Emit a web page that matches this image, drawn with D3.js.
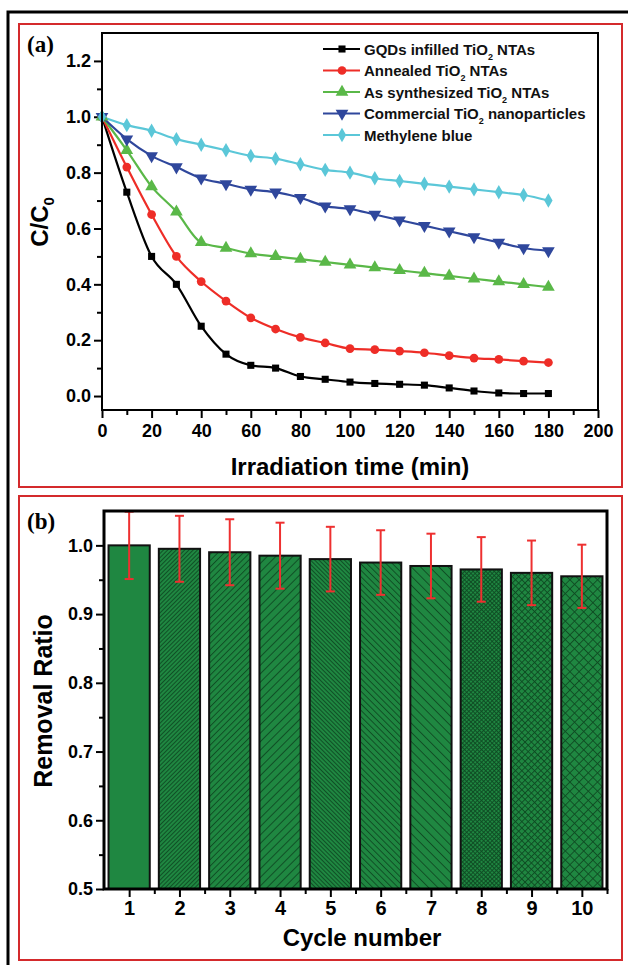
<!DOCTYPE html>
<html>
<head>
<meta charset="utf-8">
<script src="https://cdn.jsdelivr.net/npm/d3@7"></script>
<style>
  body { margin: 0; background: #fff; }
  text { font-family: "Liberation Sans", Arial, sans-serif; font-weight: bold; }
</style>
</head>
<body>
<div id="chart"></div>
<script>
// Panel (a): photodegradation, C/C0 vs irradiation time
const times = [0, 10, 20, 30, 40, 50, 60, 70, 80, 90, 100, 110, 120, 130, 140, 150, 160, 170, 180];
const gqds = [1.0, 0.73, 0.50, 0.40, 0.25, 0.15, 0.11, 0.10, 0.07, 0.06, 0.05, 0.045, 0.042, 0.039, 0.029, 0.018, 0.011, 0.009, 0.009];
const annealed = [1.0, 0.82, 0.65, 0.50, 0.41, 0.34, 0.28, 0.24, 0.21, 0.19, 0.17, 0.166, 0.161, 0.155, 0.145, 0.136, 0.131, 0.125, 0.12];
const asSynth = [1.0, 0.88, 0.75, 0.66, 0.55, 0.53, 0.51, 0.50, 0.49, 0.48, 0.47, 0.46, 0.45, 0.44, 0.43, 0.42, 0.41, 0.40, 0.39];
const commercial = [1.0, 0.92, 0.86, 0.82, 0.78, 0.76, 0.74, 0.73, 0.71, 0.68, 0.67, 0.65, 0.63, 0.61, 0.59, 0.57, 0.55, 0.53, 0.52];
const mb = [1.0, 0.97, 0.95, 0.92, 0.90, 0.88, 0.86, 0.85, 0.83, 0.81, 0.80, 0.78, 0.77, 0.76, 0.75, 0.74, 0.73, 0.72, 0.70];
const seriesNames = ["GQDs infilled TiO|2| NTAs", "Annealed TiO|2| NTAs", "As synthesized TiO|2| NTAs", "Commercial TiO|2| nanoparticles", "Methylene blue"];
const xTicksA = [0, 20, 40, 60, 80, 100, 120, 140, 160, 180, 200];
const yTicksA = [0.0, 0.2, 0.4, 0.6, 0.8, 1.0, 1.2];

// Panel (b): recycling test
const cycles = [1, 2, 3, 4, 5, 6, 7, 8, 9, 10];
const removal = [1.0, 0.995, 0.99, 0.985, 0.98, 0.975, 0.97, 0.965, 0.96, 0.955];
const removalErr = [0.049, 0.048, 0.048, 0.048, 0.047, 0.047, 0.047, 0.047, 0.047, 0.046];
const yTicksB = [0.5, 0.6, 0.7, 0.8, 0.9, 1.0];

const width = 628, height = 965;
const svg = d3.select("#chart").append("svg").attr("width", width).attr("height", height);

// outer frame and panel boxes
svg.append("rect").attr("x", 8).attr("y", 12).attr("width", 640).attr("height", 980)
  .attr("fill", "none").attr("stroke", "#000").attr("stroke-width", 3);
svg.append("rect").attr("x", 19).attr("y", 24).attr("width", 603).attr("height", 463)
  .attr("fill", "none").attr("stroke", "#d42a2c").attr("stroke-width", 2);
svg.append("rect").attr("x", 19).attr("y", 496).attr("width", 603).attr("height", 464)
  .attr("fill", "none").attr("stroke", "#d42a2c").attr("stroke-width", 2);

// helper for text with subscripts marked as |x|
function richText(sel, str, subSize, shift) {
  str.split("|").forEach((part, i) => {
    if (!part) return;
    const t = sel.append("tspan").text(part);
    if (i % 2 === 1) t.attr("font-size", subSize).attr("dy", shift);
    else if (i > 0) t.attr("dy", -shift);
  });
}

// ---------- panel (a) ----------
const ax = d3.scaleLinear().domain([0, 200]).range([102, 598]);
const ay = d3.scaleLinear().domain([-0.05, 1.3]).range([410, 33]);
const colors = ["#000000", "#ee2d27", "#5ab848", "#2f479c", "#5bc7d8"];
const symbols = [d3.symbolSquare, d3.symbolCircle, d3.symbolTriangle, d3.symbolTriangle, d3.symbolDiamond];
const symSize = [50, 60, 70, 70, 60];
const symRot = [0, 0, 0, 180, 0];
const allSeries = [gqds, annealed, asSynth, commercial, mb];

const gA = svg.append("g");
gA.append("g").attr("transform", "translate(0,410)")
  .call(d3.axisBottom(ax).tickValues(d3.range(10, 200, 20)).tickSize(5).tickFormat(""))
  .call(g => g.select(".domain").remove());
gA.append("g").attr("transform", "translate(0,410)")
  .call(d3.axisBottom(ax).tickValues(xTicksA).tickSize(8).tickPadding(6).tickFormat(d3.format("d")))
  .call(g => g.select(".domain").remove())
  .call(g => g.selectAll("text").attr("font-size", 18).attr("fill", "#000"));
gA.append("g").attr("transform", "translate(102,0)")
  .call(d3.axisLeft(ay).tickValues(d3.range(0.1, 1.3, 0.2)).tickSize(5).tickFormat(""))
  .call(g => g.select(".domain").remove());
gA.append("g").attr("transform", "translate(102,0)")
  .call(d3.axisLeft(ay).tickValues(yTicksA).tickSize(8).tickPadding(3).tickFormat(d3.format(".1f")))
  .call(g => g.select(".domain").remove())
  .call(g => g.selectAll("text").attr("font-size", 18).attr("fill", "#000"));
gA.selectAll(".tick line").attr("stroke-width", 2);

const line = d3.line().x((d, i) => ax(times[i])).y(d => ay(d)).curve(d3.curveMonotoneX);
allSeries.forEach((s, k) => {
  gA.append("path").datum(s).attr("d", line).attr("fill", "none")
    .attr("stroke", colors[k]).attr("stroke-width", 2.2);
});
allSeries.forEach((s, k) => {
  gA.selectAll(null).data(s).join("path")
    .attr("d", d3.symbol(symbols[k], symSize[k]))
    .attr("transform", (d, i) => `translate(${ax(times[i])},${ay(d)}) rotate(${symRot[k]})`)
    .attr("fill", colors[k]);
});
gA.append("rect").attr("x", 102).attr("y", 33).attr("width", 496).attr("height", 377)
  .attr("fill", "none").attr("stroke", "#000").attr("stroke-width", 2);

// legend
seriesNames.forEach((name, k) => {
  const cy = 49 + k * 21.5;
  gA.append("line").attr("x1", 323).attr("x2", 360).attr("y1", cy).attr("y2", cy)
    .attr("stroke", colors[k]).attr("stroke-width", 2.2);
  gA.append("path").attr("d", d3.symbol(symbols[k], symSize[k]))
    .attr("transform", `translate(342,${cy}) rotate(${symRot[k]})`).attr("fill", colors[k]);
  const t = gA.append("text").attr("x", 364).attr("y", cy + 5.5).attr("font-size", 15).attr("fill", "#111");
  richText(t, name, 9, 5);
});

gA.append("text").attr("x", 350).attr("y", 475).attr("text-anchor", "middle")
  .attr("font-size", 24).text("Irradiation time (min)");
const yl = gA.append("text").attr("transform", "translate(48,222) rotate(-90)")
  .attr("text-anchor", "middle").attr("font-size", 24);
richText(yl, "C/C|0|", 15, 6);
gA.append("text").attr("x", 27).attr("y", 52).attr("font-size", 23)
  .style("font-family", "'Liberation Serif', 'Times New Roman', serif").text("(a)");

// ---------- panel (b) ----------
const bx = d3.scaleLinear().domain([0.5, 10.5]).range([104, 607]);
const by = d3.scaleLinear().domain([0.5, 1.05]).range([889, 511]);
const bandW = bx(1) - bx(0);
const barW = bandW * 0.82;

// bar fill patterns: [angle, spacing, crosshatch]
const patterns = [null, [45, 3, false], [45, 4.5, false], [45, 6, false], [-45, 3, false], [-45, 4.5, false], [-45, 6.5, false], [45, 3, true], [45, 4.5, true], [45, 6.5, true]];
const green = "#1f8741", hatch = "#0e4a22";
const defs = svg.append("defs");
patterns.forEach((p, i) => {
  if (!p) return;
  const pat = defs.append("pattern").attr("id", "pat" + i).attr("patternUnits", "userSpaceOnUse")
    .attr("width", p[1]).attr("height", p[1]).attr("patternTransform", `rotate(${p[0]})`);
  pat.append("rect").attr("width", p[1]).attr("height", p[1]).attr("fill", green);
  pat.append("line").attr("x1", 0.5).attr("x2", 0.5).attr("y1", 0).attr("y2", p[1])
    .attr("stroke", hatch).attr("stroke-width", 0.9);
  if (p[2]) pat.append("line").attr("x1", 0).attr("x2", p[1]).attr("y1", 0.5).attr("y2", 0.5)
    .attr("stroke", hatch).attr("stroke-width", 0.9);
});

const gB = svg.append("g");
gB.selectAll(null).data(cycles).join("rect")
  .attr("x", d => bx(d) - barW / 2).attr("width", barW)
  .attr("y", (d, i) => by(removal[i])).attr("height", (d, i) => by(0.5) - by(removal[i]))
  .attr("fill", (d, i) => patterns[i] ? `url(#pat${i})` : green)
  .attr("stroke", "#111").attr("stroke-width", 2);

// error bars
cycles.forEach((c, i) => {
  const hi = Math.min(removal[i] + removalErr[i], 1.05), lo = removal[i] - removalErr[i];
  gB.append("line").attr("x1", bx(c)).attr("x2", bx(c)).attr("y1", by(hi)).attr("y2", by(lo))
    .attr("stroke", "#ee3030").attr("stroke-width", 2);
  [hi, lo].forEach(v => gB.append("line").attr("x1", bx(c) - 4.5).attr("x2", bx(c) + 4.5)
    .attr("y1", by(v)).attr("y2", by(v)).attr("stroke", "#ee3030").attr("stroke-width", 2));
});

gB.append("g").attr("transform", "translate(0,889)")
  .call(d3.axisBottom(bx).tickValues(d3.range(1.5, 10.6, 1)).tickSize(5).tickFormat(""))
  .call(g => g.select(".domain").remove());
gB.append("g").attr("transform", "translate(0,889)")
  .call(d3.axisBottom(bx).tickValues(cycles).tickSize(8).tickPadding(4).tickFormat(d3.format("d")))
  .call(g => g.select(".domain").remove())
  .call(g => g.selectAll("text").attr("font-size", 20).attr("fill", "#000"));
gB.append("g").attr("transform", "translate(104,0)")
  .call(d3.axisLeft(by).tickValues(d3.range(0.55, 1.05, 0.1)).tickSize(5).tickFormat(""))
  .call(g => g.select(".domain").remove());
gB.append("g").attr("transform", "translate(104,0)")
  .call(d3.axisLeft(by).tickValues(yTicksB).tickSize(8).tickPadding(3).tickFormat(d3.format(".1f")))
  .call(g => g.select(".domain").remove())
  .call(g => g.selectAll("text").attr("font-size", 18).attr("fill", "#000"));
gB.selectAll(".tick line").attr("stroke-width", 2);
gB.append("rect").attr("x", 104).attr("y", 511).attr("width", 503).attr("height", 378)
  .attr("fill", "none").attr("stroke", "#000").attr("stroke-width", 3);

gB.append("text").attr("x", 362).attr("y", 946).attr("text-anchor", "middle")
  .attr("font-size", 24).text("Cycle number");
gB.append("text").attr("transform", "translate(52,701) rotate(-90)")
  .attr("text-anchor", "middle").attr("font-size", 25).text("Removal Ratio");
gB.append("text").attr("x", 27).attr("y", 529).attr("font-size", 23)
  .style("font-family", "'Liberation Serif', 'Times New Roman', serif").text("(b)");
</script>
</body>
</html>
